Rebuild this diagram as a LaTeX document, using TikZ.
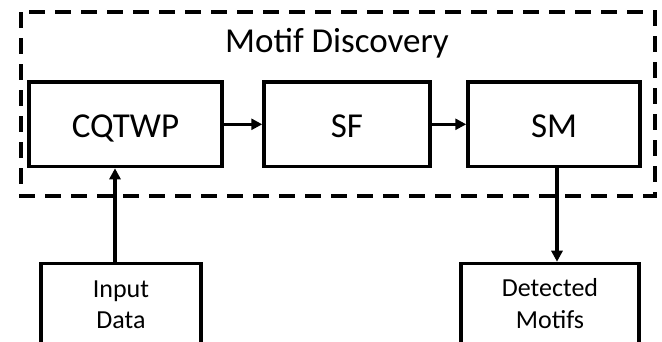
\documentclass[tikz,border=0pt]{standalone}
\usepackage{fontspec}
\setmainfont{Carlito}
\usetikzlibrary{arrows.meta}
\begin{document}
\begin{tikzpicture}[x=1pt,y=-1pt,
  box/.style={draw, line width=3.5pt, inner sep=0pt},
  conn/.style={line width=3.5pt, -{Triangle[length=11pt,width=11pt]}},
  big/.style={font=\fontsize{35}{40}\selectfont, anchor=base, inner sep=0pt},
  small/.style={font=\fontsize{26}{31}\selectfont, anchor=base, inner sep=0pt}]
\useasboundingbox (0,0) rectangle (662,342);
\clip (0,0) rectangle (662,342);
\draw[line width=4pt, dash pattern=on 16pt off 10pt] (20.5,12.5) rectangle (655,196);
\node[big] (title) at (337,53) {Motif Discovery};
\node[box, minimum width=193pt, minimum height=84.5pt] (cq) at (125.5,124.3) {};
\node[box, minimum width=166pt, minimum height=84.5pt] (sf) at (347,124.3) {};
\node[box, minimum width=172pt, minimum height=84.5pt] (sm) at (554,124.3) {};
\node[big] (cqt) at (125.5,138) {CQTWP};
\node[big] (sft) at (347,138) {SF};
\node[big] (smt) at (554,138) {SM};
\node[box, minimum width=160pt, minimum height=150pt] (inp) at (121,338.5) {};
\node[box, minimum width=178pt, minimum height=150pt] (det) at (550,338.5) {};
\node[small] (inp1) at (121,297) {Input};
\node[small] (inp2) at (121,328) {Data};
\node[small] (det1) at (550,296) {Detected};
\node[small] (det2) at (550,328) {Motifs};
\draw[conn] (cq.east) -- (sf.west);
\draw[conn] (sf.east) -- (sm.west);
\draw[conn] ([xshift=-6pt]inp.north) -- ([xshift=-6pt]inp.north |- cq.south);
\draw[conn] ([xshift=3pt]sm.south) -- ([xshift=3pt]sm.south |- det.north);
\end{tikzpicture}
\end{document}
